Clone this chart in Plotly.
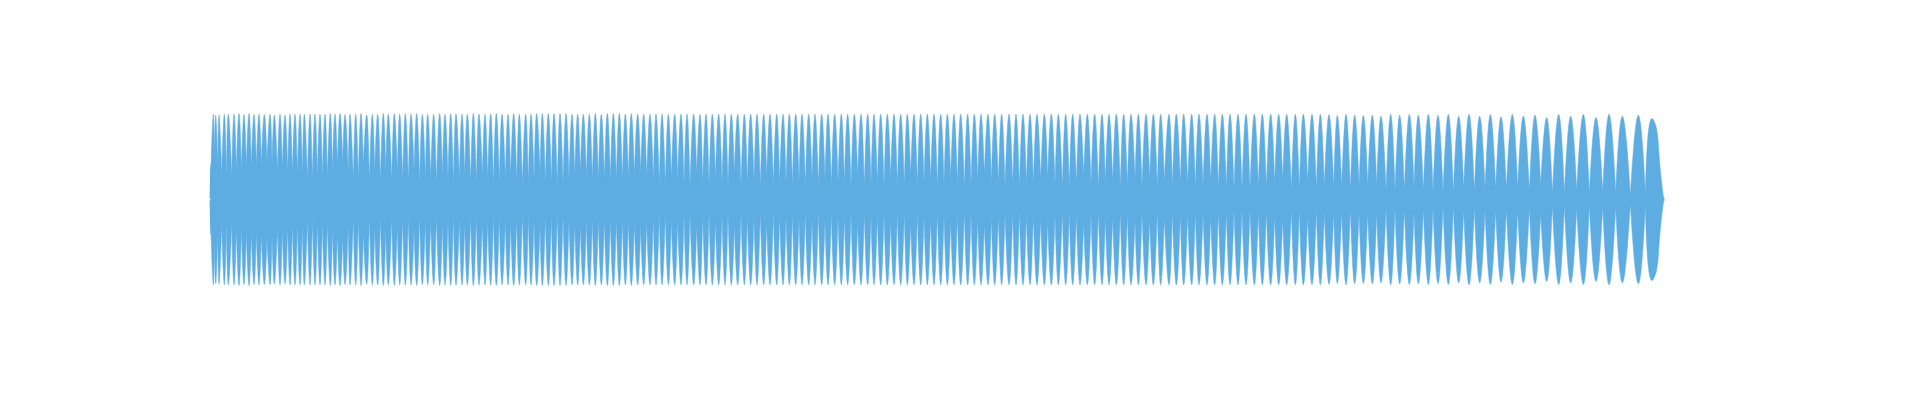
import plotly.graph_objects as go

# Waveform envelope, run by run.
# Time in ticks (3 ticks = 1 screen pixel at this size), amplitude with full scale = 256.
run_start = [0, 480, 960, 1440, 1920, 2400, 2880, 3360, 3870]

peak_t = [
 [25,32,42,58,70,87,102,117,132,147,162,178,195,208,225,240,255,270,285,298,315,330,345,360,376,390,405,420,435,452,468],
 [5,22,38,55,70,88,104,121,138,155,172,188,206,224,240,257,273,291,307,325,342,360,377,394,411,429,446,463],
 [2,18,35,52,70,87,105,123,141,158,175,193,211,229,247,265,283,301,319,338,356,375,393,411,430,449,468],
 [6,26,45,63,82,101,120,139,158,178,197,216,236,255,275,294,313,332,351,371,390,410,429,449,469],
 [8,28,48,68,87,107,127,147,167,187,207,227,247,267,287,307,327,347,368,388,408,429,449,470],
 [12,33,54,75,96,118,139,160,182,203,225,247,269,291,312,334,356,378,400,423,445,467],
 [12,34,56,80,102,126,149,172,195,219,243,268,292,317,341,365,391,415,441,466],
 [12,37,63,89,115,142,168,197,224,253,280,310,339,370,401,432,464,496],
 [18,52,85,120,155,191,227,265,303,342,382,430,470],
]
peak_a = [
 [256,253,253,256,256,256,258,255,258,255,256,255,256,253,256,253,256,256,256,256,256,256,256,256,258,256,258,255,256,256,258],
 [254,256,256,258,256,258,256,257,256,258,255,256,256,258,256,258,257,256,256,258,256,256,257,258,256,256,258,256],
 [256,256,258,258,258,258,258,258,256,256,256,256,258,256,258,258,258,256,258,256,256,256,256,256,256,256,256],
 [256,256,256,256,256,256,256,256,256,256,256,256,256,256,256,256,256,256,256,256,256,256,256,256,256],
 [256,256,256,256,256,256,256,256,256,256,256,256,256,256,256,256,256,256,256,256,256,256,256,256],
 [256,256,256,256,256,256,256,256,256,256,256,256,256,256,256,256,256,256,256,256,256,256],
 [256,256,256,256,256,256,256,256,256,256,256,256,256,256,256,256,256,256,256,256],
 [254,252,256,253,252,253,250,256,253,255,253,255,253,255,250,256,250,255],
 [248,255,250,253,246,255,250,255,246,256,250,253,243],
]
gap_t = [
 [28,38,50,64,80,94,109,124,139,154,169,186,201,217,232,248,262,277,292,307,322,337,352,367,382,397,413,430,445,460,475],
 [13,29,46,62,80,97,113,130,147,164,181,197,214,232,249,265,283,299,317,334,352,368,385,403,421,437,455,472],
 [10,27,45,61,79,97,114,132,149,166,184,202,220,238,256,274,292,310,328,347,365,385,403,421,439,458,477],
 [15,35,53,72,91,111,129,148,168,187,207,226,245,265,284,303,322,342,361,381,400,420,439,459,478],
 [18,38,58,78,97,117,137,157,178,197,217,237,257,277,297,317,337,358,378,398,418,439,460,480],
 [23,43,64,85,107,128,150,172,193,214,236,258,280,301,323,346,367,390,411,434,457,478],
 [22,46,68,91,114,137,160,184,207,231,255,280,304,329,353,379,403,428,454,478],
 [26,50,76,102,128,155,183,210,238,267,295,324,354,385,416,448,480,512],
 [34,68,103,137,172,208,245,283,323,362,406,451,506],
]
gap_a = [
 [127,100,73,68,70,88,85,98,100,98,106,116,110,88,93,82,78,76,73,63,61,70,70,70,88,100,113,78,58,61,106],
 [53,88,53,90,53,80,58,53,90,50,64,68,50,71,68,46,64,73,50,50,70,64,46,50,64,73,55,44],
 [46,63,81,55,49,43,49,61,71,79,67,61,61,61,61,61,61,64,73,82,67,55,43,43,64,64,46],
 [43,80,46,43,63,49,40,80,43,52,55,40,70,43,49,52,43,58,40,61,40,64,43,52,52],
 [40,71,40,49,49,40,67,40,43,73,43,52,58,37,49,67,46,37,43,58,76,52,49,43],
 [43,40,46,46,58,67,46,37,40,46,70,46,34,52,52,37,43,64,37,58,34,58],
 [37,46,46,34,43,52,34,34,31,31,31,37,34,49,58,31,31,52,31,40],
 [37,37,28,40,43,43,28,28,28,40,28,25,22,22,34,25,34,33],
 [31,34,25,46,19,19,28,19,22,22,13,19,3],
]
start_t = [16, 18]
start_a = [3, 100]
tail_t = [3870 + 480, 3870 + 487, 3870 + 492, 3870 + 497]
tail_a = [228, 198, 138, 78]

BLUE = "#5DADE2"

# Flatten the runs in reading order.
peaks_t, peaks_a, gaps_t, gaps_a = [], [], list(start_t[1:]), list(start_a[1:])
for s, pt, pa, gt, ga in zip(run_start, peak_t, peak_a, gap_t, gap_a):
    peaks_t += [s + v for v in pt]
    peaks_a += pa
    gaps_t += [s + v for v in gt]
    gaps_a += ga

# One closed lobe per period, above and below the centre line.
lobe_x, lobe_y = [], []
last = len(peaks_t) - 1
for i in range(len(peaks_t)):
    tx = tail_t if i == last else []
    ta = tail_a if i == last else []
    for sign in (1, -1):
        lobe_x += [gaps_t[i], peaks_t[i]] + tx + [gaps_t[i + 1], None]
        lobe_y += [sign * gaps_a[i], sign * peaks_a[i]] + [sign * v for v in ta] + [sign * gaps_a[i + 1], None]

band_t = start_t[:1] + gaps_t
band_a = start_a[:1] + gaps_a
band_x = band_t + band_t[::-1]
band_y = band_a + [-v for v in band_a[::-1]]

fig = go.Figure()
fig.add_trace(go.Scatter(x=lobe_x, y=lobe_y, mode="lines", fill="toself", fillcolor=BLUE,
                         line=dict(color=BLUE, width=0.5, shape="spline", smoothing=1.3),
                         connectgaps=False, hoverinfo="skip", showlegend=False))
fig.add_trace(go.Scatter(x=band_x, y=band_y, mode="lines", fill="toself", fillcolor=BLUE,
                         line=dict(color=BLUE, width=1.5), hoverinfo="skip", showlegend=False))
fig.update_layout(
    width=1920, height=400, autosize=False,
    margin=dict(l=205, r=250, t=100, b=101, pad=0),
    paper_bgcolor="white", plot_bgcolor="white",
    xaxis=dict(visible=False, range=[0, 4395]),
    yaxis=dict(visible=False, range=[-298.5, 298.5]),
)
fig.write_html("out.html", config=dict(displayModeBar=False),
               post_script="document.body.style.margin='0';")
